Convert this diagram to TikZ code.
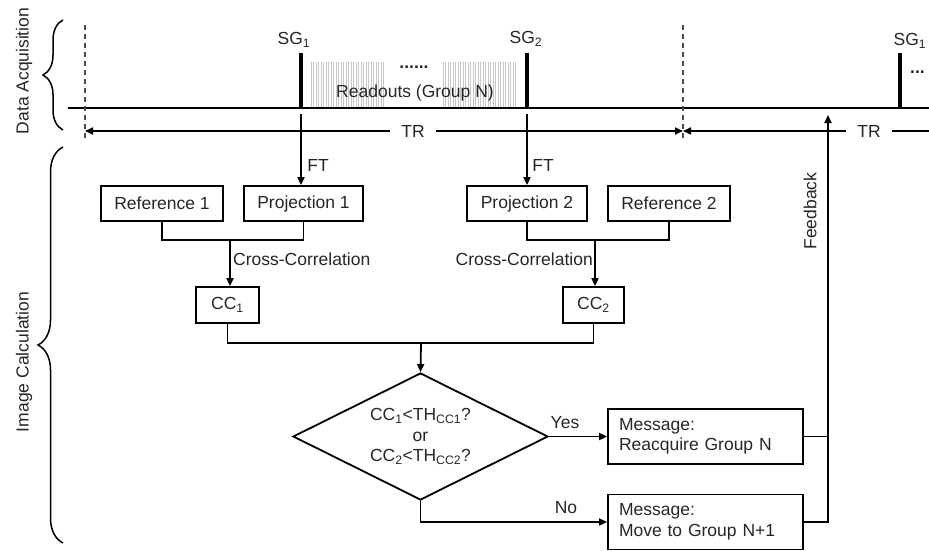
\documentclass[tikz,border=0pt]{standalone}
\usepackage{fontspec}
\setmainfont{Liberation Sans}
\usetikzlibrary{arrows.meta,shapes.geometric,decorations.pathreplacing}
\begin{document}
\begin{tikzpicture}[x=1pt,y=-1pt,
  every node/.style={font=\fontsize{17.5}{20.5}\selectfont, text=black!85},
  ln/.style={line width=1.8pt, draw=black},
  arr/.style={ln, -{Triangle[length=8pt,width=7pt]}},
  box/.style={draw, ln, minimum height=35pt, inner sep=0pt},
  msg/.style={draw, ln, minimum width=195pt, minimum height=55pt, text width=173pt, inner xsep=11pt, inner ysep=0pt, align=left},
  dashline/.style={dash pattern=on 5pt off 4pt, line width=1.5pt, draw=black!70},
  sgbar/.style={line width=4pt, draw=black},
  hatch/.style={line width=0.6pt, draw=black!22},
  brc/.style={decorate, decoration={brace, amplitude=#1}, line width=1.5pt, draw=black}
]
\useasboundingbox (0,0) rectangle (929,551);

% side labels and braces
\node[rotate=90] (lda) at (24,71) {Data Acquisition};
\node[rotate=90] (lic) at (24,362) {Image Calculation};
\draw[brc=20pt] (63,130) -- (63,20);
\draw[brc=25pt] (63,543) -- (63,147);

% readout hatching
\foreach \x in {311,313.5,...,385} \draw[hatch] (\x,62) -- (\x,108);
\foreach \x in {443,445.5,...,517} \draw[hatch] (\x,62) -- (\x,108);

% timeline
\coordinate (tl0) at (68,108);
\coordinate (tl1) at (929,108);
\draw[ln] (tl0) -- (tl1);

% dashed TR boundaries
\coordinate (da) at (85,25);  \coordinate (dab) at (85,138);
\coordinate (db) at (683,25); \coordinate (dbb) at (683,138);
\draw[dashline] (da) -- (dab);
\draw[dashline] (db) -- (dbb);

% gradient pulses
\draw[sgbar] (301,53) -- (301,108);
\draw[sgbar] (527,53) -- (527,108);
\draw[sgbar] (900,53) -- (900,108);
\node (sg1) at (294,40) {SG\textsubscript{1}};
\node (sg2) at (526,39) {SG\textsubscript{2}};
\node (sg3) at (910,41) {SG\textsubscript{1}};
\node (dots) at (414,67) {\textbf{......}};
\node[anchor=west, inner sep=0pt] (dots2) at (910,72) {\textbf{...}};
\node (ro) at (415,93) {Readouts (Group N)};

% TR arrows
\coordinate (tra) at (85,131);
\coordinate (trb) at (683,131);
\coordinate (trc) at (929,131);
\node[inner xsep=11pt, inner ysep=0pt] (tr1) at (413,131) {TR};
\node[inner xsep=11pt, inner ysep=0pt] (tr2) at (869,131) {TR};
\draw[arr] (tr1.west) -- (tra);
\draw[arr] (tr1.east) -- (trb);
\draw[arr] (tr2.west) -- (trb);
\draw[ln] (tr2.east) -- (trc);

% boxes
\node[box, minimum width=122pt] (r1) at (162,203.5) {Reference 1};
\node[box, minimum width=119pt] (p1) at (303.5,203.5) {Projection 1};
\node[box, minimum width=120pt] (p2) at (527,203.5) {Projection 2};
\node[box, minimum width=122pt] (r2) at (669,203.5) {Reference 2};
\node[box, minimum width=63pt, minimum height=36pt] (cc1) at (227.5,305) {CC\textsubscript{1}};
\node[box, minimum width=61pt, minimum height=36pt] (cc2) at (593.5,305) {CC\textsubscript{2}};

% FT arrows
\coordinate (ft1) at (301,114);
\coordinate (ft2) at (527,114);
\draw[arr] (ft1) -- (ft1 |- p1.north);
\draw[arr] (ft2) -- (ft2 |- p2.north);
\node (ftl1) at (318,165) {FT};
\node (ftl2) at (543,165) {FT};

% cross-correlation junctions
\coordinate (j1) at (230,240);
\coordinate (j2) at (595,240);
\draw[ln] (r1.south) |- (j1) -| (p1.south);
\draw[ln] (p2.south) |- (j2) -| (r2.south);
\draw[arr] (j1) -- (j1 |- cc1.north);
\draw[arr] (j2) -- (j2 |- cc2.north);
\node[anchor=west, inner sep=0pt] (xc1) at (233,259) {Cross-Correlation};
\node[anchor=east, inner sep=0pt] (xc2) at (593,259) {Cross-Correlation};

% decision
\node[draw, ln, diamond, aspect=2, minimum width=255pt, minimum height=127pt, inner sep=0pt, align=center] (dia) at (420.5,436.5)
  {CC\textsubscript{1}<TH\textsubscript{CC1}?\\or\\CC\textsubscript{2}<TH\textsubscript{CC2}?};
\coordinate (j3) at (421,343);
\draw[ln] (cc1.south) |- (j3) -| (cc2.south);
\draw[arr] (j3) -- (dia.north);

% messages
\node[msg] (m1) at (705.5,436.5) {Message:\\Reacquire Group N};
\node[msg] (m2) at (705.5,522) {Message:\\Move to Group N+1};
\draw[arr] (dia.east) -- (m1.west);
\draw[arr] (dia.south) |- (m2.west);
\node (yes) at (565,423) {Yes};
\node (no) at (566,508) {No};

% feedback
\coordinate (fb) at (828,115);
\draw[ln] (m1.east) -- (m1.east -| fb);
\draw[arr] (m2.east) -| (fb);
\node[rotate=90] (fbl) at (810,211) {Feedback};
\end{tikzpicture}
\end{document}
